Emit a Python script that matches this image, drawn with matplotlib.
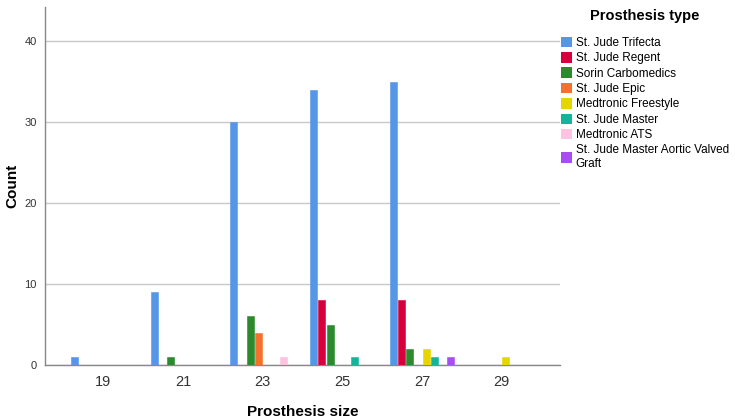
import matplotlib.pyplot as plt
import numpy as np

plt.rcParams['font.family'] = ['Liberation Sans', 'DejaVu Sans']

sizes = ["19", "21", "23", "25", "27", "29"]
types = ["St. Jude Trifecta", "St. Jude Regent", "Sorin Carbomedics", "St. Jude Epic",
         "Medtronic Freestyle", "St. Jude Master", "Medtronic ATS",
         "St. Jude Master Aortic Valved\nGraft"]
colors = ["#5596e6", "#d7003c", "#2b8a2b", "#f5702e", "#e6d600", "#12b49c", "#fec3e1", "#a94cf2"]

# counts per size, one list per prosthesis type
trifecta = [1, 9, 30, 34, 35, 0]
regent = [0, 0, 0, 8, 8, 0]
sorin = [0, 1, 6, 5, 2, 0]
epic = [0, 0, 4, 0, 0, 0]
freestyle = [0, 0, 0, 0, 2, 1]
master = [0, 0, 0, 1, 1, 0]
ats = [0, 0, 1, 0, 0, 0]
avg = [0, 0, 0, 0, 1, 0]
counts = [trifecta, regent, sorin, epic, freestyle, master, ats, avg]

fig = plt.figure(figsize=(7.35, 4.2), dpi=100)
ax = fig.add_axes([0.0612, 0.131, 0.7007, 0.852])

x = np.arange(len(sizes))
slot = 0.103
width = 0.088
for i, (vals, c, name) in enumerate(zip(counts, colors, types)):
    pos = x + (i - 3.5) * slot
    vals = np.array(vals)
    mask = vals > 0
    ax.bar(pos[mask], vals[mask], width=width, color=c, edgecolor=c, linewidth=0.4, zorder=3)
    ax.bar([np.nan], [0], color=c, label=name)

ax.set_xlim(-0.73, 5.73)
ax.set_ylim(0, 44.2)
ax.set_xticks(x)
ax.set_xticklabels(sizes, fontsize=10.5, color="#333333")
ax.set_yticks([0, 10, 20, 30, 40])
ax.tick_params(axis='y', labelsize=8, colors="#333333", length=0, pad=6)
ax.tick_params(axis='x', length=0, pad=7)
ax.grid(axis='y', color="#c8c8c8", linewidth=1, zorder=0)
for s in ["top", "right"]:
    ax.spines[s].set_visible(False)
for s in ["left", "bottom"]:
    ax.spines[s].set_color("#888888")
    ax.spines[s].set_linewidth(1)

ax.set_xlabel("Prosthesis size", fontsize=11, fontweight="bold", labelpad=12)
fig.text(12 / 735, 1 - 186 / 420, "Count", rotation=90, fontsize=11, fontweight="bold",
         ha="center", va="center")

leg = ax.legend(loc="upper left", bbox_to_anchor=(0.760, 0.985), bbox_transform=fig.transFigure,
                frameon=False, fontsize=8.5, title="Prosthesis type",
                title_fontproperties={"weight": "bold", "size": 10.5},
                handlelength=0.95, handleheight=1.0, handletextpad=0.3, labelspacing=0.26,
                borderaxespad=0, borderpad=0.2)
leg._legend_box.sep = 10

fig.savefig("out.png", dpi=100)
